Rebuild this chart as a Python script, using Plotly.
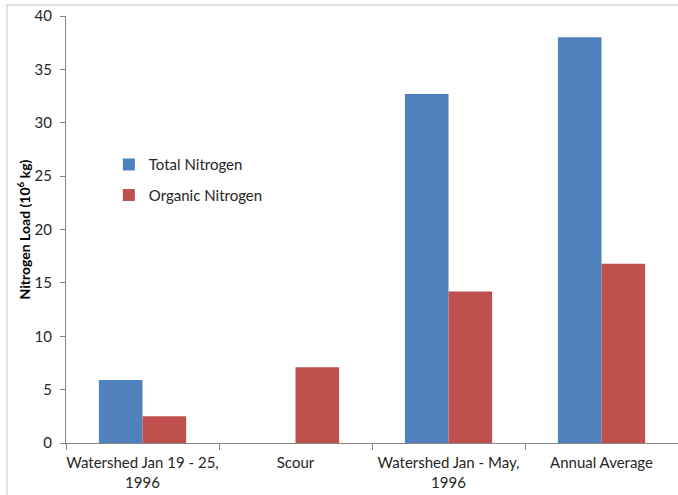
import plotly.graph_objects as go

categories = ["Watershed Jan 19 - 25,<br>1996", "Scour", "Watershed Jan - May,<br>1996", "Annual Average"]
total_nitrogen = [5.9, None, 32.7, 38.0]
organic_nitrogen = [2.5, 7.1, 14.2, 16.8]
y_ticks = [0, 5, 10, 15, 20, 25, 30, 35, 40]

FONT = "Lato"
W, H = 678, 495
ML, MR, MT, MB = 66, 0, 16, 52

fig = go.Figure()
fig.add_trace(go.Bar(name="Total Nitrogen", x=categories, y=total_nitrogen,
                     marker=dict(color="#4F81BD", line=dict(width=0)), legendgroup="a"))
fig.add_trace(go.Bar(name="Organic Nitrogen", x=categories, y=organic_nitrogen,
                     marker=dict(color="#C0504D", line=dict(width=0)), legendgroup="b"))

fig.update_layout(
    width=W, height=H,
    margin=dict(l=ML, r=MR, t=MT, b=MB, autoexpand=False),
    paper_bgcolor="white", plot_bgcolor="white",
    barmode="group", bargap=0.43, bargroupgap=0,
    font=dict(family=FONT, size=15, color="#262626"),
    showlegend=True,
    legend=dict(x=0.07, y=0.69, xanchor="left", yanchor="top",
                bgcolor="rgba(0,0,0,0)", tracegroupgap=8,
                font=dict(family=FONT, size=15, color="#262626")),
    xaxis=dict(type="category", tickson="boundaries", ticks="outside", ticklen=6,
               tickangle=0, ticklabelstandoff=6,
               tickcolor="#868686", showline=True, linecolor="#868686", linewidth=1,
               showgrid=False, tickfont=dict(family=FONT, size=15, color="#262626")),
    yaxis=dict(range=[0, 40], tickvals=y_ticks, ticks="outside", ticklen=5,
               ticklabelstandoff=5,
               tickcolor="#868686", showline=True, linecolor="#868686", linewidth=1,
               showgrid=False, zeroline=False,
               tickfont=dict(family=FONT, size=15, color="#262626"),
               title=dict(text="<b>Nitrogen Load (10<sup>6</sup> kg)</b>",
                          font=dict(family=FONT, size=14, color="#000000"), standoff=0)),
    shapes=[dict(type="rect", xref="paper", yref="paper",
                 x0=(7 - ML) / (W - ML - MR), x1=1.05,
                 y0=-0.2, y1=(H - MB - 5) / (H - MT - MB),
                 line=dict(color="#D9D9D9", width=1.5), fillcolor="rgba(0,0,0,0)", layer="below")],
)

fig.write_html("out.html", config={"displayModeBar": False},
               post_script="document.body.style.margin='0';")
